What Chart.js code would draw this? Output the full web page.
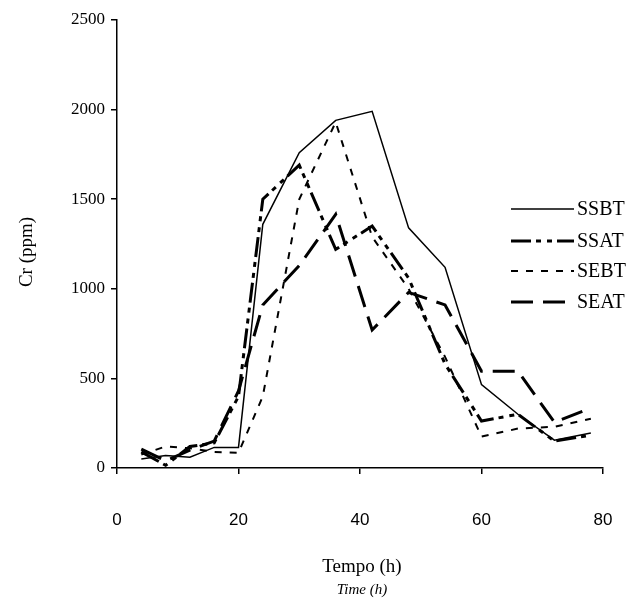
<!DOCTYPE html>
<html>
<head>
<meta charset="utf-8">
<script src="https://cdn.jsdelivr.net/npm/chart.js@4.4.1/dist/chart.umd.min.js"></script>
<style>
  html, body { margin: 0; padding: 0; background: #fff; }
  #wrap { width: 641px; height: 602px; }
</style>
</head>
<body>
<div id="wrap"><canvas id="chart" width="641" height="602"></canvas></div>
<script>
// tempo (h) das coletas
const hours = [4, 8, 12, 16, 20, 24, 30, 36, 42, 48, 54, 60, 66, 72, 78];

// Cr (ppm) por tratamento
const ssbt = [50, 70, 60, 115, 115, 1360, 1760, 1940, 1990, 1340, 1120, 465, 300, 155, 195];
const ssat = [90, 15, 120, 140, 400, 1500, 1690, 1220, 1350, 1060, 580, 262, 300, 150, 183];
const sebt = [75, 120, 110, 90, 85, 400, 1500, 1930, 1290, 1000, 620, 175, 220, 230, 275];
const seat = [105, 40, 100, 150, 430, 910, 1130, 1415, 770, 980, 910, 540, 540, 255, 335];

const seriesNames = ["SSBT", "SSAT", "SEBT", "SEAT"];
const xTicks = [0, 20, 40, 60, 80];
const yTicks = [0, 500, 1000, 1500, 2000, 2500];

const SERIF = "'Liberation Serif', 'Times New Roman', serif";
const SANS = "'Liberation Sans', Arial, sans-serif";

function pts(values) {
  return hours.map((h, i) => ({ x: h, y: values[i] }));
}

function ds(label, values, width, dash) {
  return {
    label,
    data: pts(values),
    borderColor: "#000",
    backgroundColor: "#000",
    borderWidth: width,
    borderDash: dash,
    pointRadius: 0,
    tension: 0,
    fill: false,
  };
}

// legenda e títulos desenhados à mão, nas posições do original
const decor = {
  id: "decor",
  afterDraw(chart) {
    const ctx = chart.ctx;
    ctx.save();
    ctx.fillStyle = "#000";

    // legenda
    const legY = [209, 241, 271, 302];
    chart.data.datasets.forEach((d, i) => {
      ctx.strokeStyle = "#000";
      ctx.lineWidth = d.borderWidth;
      ctx.setLineDash(d.borderDash || []);
      ctx.beginPath();
      ctx.moveTo(511, legY[i]);
      ctx.lineTo(574, legY[i]);
      ctx.stroke();
      ctx.setLineDash([]);
      ctx.font = "20px " + SERIF;
      ctx.textAlign = "left";
      ctx.textBaseline = "middle";
      ctx.fillText(d.label, 577, legY[i] + 1);
    });

    // título eixo y
    ctx.save();
    ctx.translate(27, 252);
    ctx.rotate(-Math.PI / 2);
    ctx.font = "19px " + SERIF;
    ctx.textAlign = "center";
    ctx.textBaseline = "middle";
    ctx.fillText("Cr (ppm)", 0, 0);
    ctx.restore();

    // título eixo x
    ctx.textAlign = "center";
    ctx.textBaseline = "middle";
    ctx.font = "19px " + SERIF;
    ctx.fillText("Tempo (h)", 362, 567);
    ctx.font = "italic 15px " + SERIF;
    ctx.fillText("Time (h)", 362, 590);
    ctx.restore();
  },
};

const axisGrid = {
  drawOnChartArea: false,
  drawTicks: true,
  tickLength: 6,
  color: "#000",
  lineWidth: 1.5,
};

new Chart(document.getElementById("chart"), {
  type: "line",
  data: {
    datasets: [
      ds(seriesNames[0], ssbt, 1.5, []),
      ds(seriesNames[1], ssat, 3, [20, 5, 5, 6, 5, 5]),
      ds(seriesNames[2], sebt, 2, [7, 8]),
      ds(seriesNames[3], seat, 3, [22, 10]),
    ],
  },
  options: {
    responsive: false,
    animation: false,
    layout: { padding: { left: 0, right: 38, top: 20, bottom: 0 } },
    plugins: { legend: { display: false }, tooltip: { enabled: false } },
    scales: {
      x: {
        type: "linear",
        min: xTicks[0],
        max: xTicks[xTicks.length - 1],
        afterBuildTicks: (s) => { s.ticks = xTicks.map((v) => ({ value: v })); },
        ticks: {
          color: "#000",
          font: { family: SANS, size: 17 },
          padding: 36,
          maxRotation: 0,
          callback: (v) => String(v),
        },
        grid: axisGrid,
        border: { color: "#000", width: 1.5 },
        afterFit: (s) => {
          s.height = 134;
          // o padding dos rótulos não deve encolher a área do gráfico
          s.paddingLeft = 0;
          s.paddingRight = 0;
        },
      },
      y: {
        min: yTicks[0],
        max: yTicks[yTicks.length - 1],
        afterBuildTicks: (s) => { s.ticks = yTicks.map((v) => ({ value: v })); },
        ticks: {
          color: "#000",
          font: { family: SERIF, size: 17 },
          padding: 6,
          callback: (v) => String(v),
        },
        grid: axisGrid,
        border: { color: "#000", width: 1.5 },
        afterFit: (s) => { s.width = 117; },
      },
    },
  },
  plugins: [decor],
});
</script>
</body>
</html>
